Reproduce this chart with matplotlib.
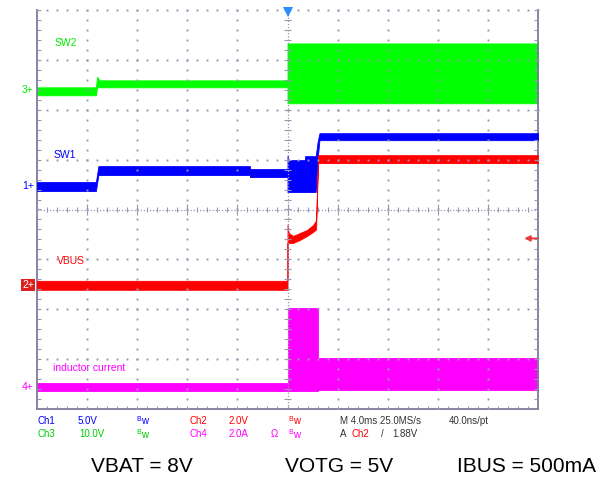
import numpy as np
import matplotlib
matplotlib.use("Agg")
import matplotlib.pyplot as plt

plt.rcParams["font.family"] = ["Liberation Sans", "DejaVu Sans"]

W, H = 608, 482

# Horizontal: 4 ms/div, 10 divisions -> -20 .. 20 ms. Vertical in divisions (-4 .. 4)
# Each trace is an envelope (top / bottom of the switching band)

# Ch3 - SW2
t_sw2 = [-20, -15.3, -15.2, -15.0, 0, 0, 20]
sw2_hi = [2.45, 2.45, 2.66, 2.59, 2.59, 3.33, 3.33]
sw2_lo = [2.29, 2.29, 2.45, 2.45, 2.45, 2.13, 2.13]

# Ch1 - SW1
t_sw1 = [-20, -15.3, -15.1, -3.0, -3.0, 0, 0, 0.1, 1.4, 1.4, 2.25, 2.4, 2.55, 20]
sw1_hi = [0.55, 0.55, 0.87, 0.87, 0.81, 0.81, 1.08, 0.99, 0.99, 1.07, 1.07, 1.35, 1.53, 1.53]
sw1_lo = [0.37, 0.37, 0.69, 0.69, 0.65, 0.65, 0.35, 0.35, 0.35, 0.35, 0.35, 1.0, 1.39, 1.39]

# Ch2 - VBUS
t_vbus = [-20, 0, 0, 0.1, 0.44, 1.0, 1.56, 2.04, 2.28, 2.44, 20]
vbus_hi = [-1.43, -1.43, -0.30, -0.47, -0.53, -0.47, -0.41, -0.31, -0.22, 1.09, 1.09]
vbus_lo = [-1.61, -1.61, -0.67, -0.67, -0.67, -0.61, -0.53, -0.45, -0.40, 0.93, 0.93]

# Ch4 - inductor current
t_il = [-20, 0, 0, 2.44, 2.44, 20]
il_hi = [-3.47, -3.47, -1.97, -1.97, -2.97, -2.97]
il_lo = [-3.63, -3.63, -3.63, -3.63, -3.61, -3.61]

# channel ground markers (divisions)
marker_pos = {"3": 2.39, "1": 0.47, "2": -1.52, "4": -3.55}
trig_level = -0.58

GRID = "#9898b2"
FRAME = "#7c7c9c"


def px(x, y):
    return x / W, 1 - y / H


fig = plt.figure(figsize=(W / 100, H / 100), dpi=100)
fig.patch.set_facecolor("white")
ax = fig.add_axes([37 / W, (H - 409) / H, 501 / W, 399 / H])
ax.set_xlim(-20, 20)
ax.set_ylim(-4, 4)
ax.set_xticks([])
ax.set_yticks([])
for side in ["left", "right", "bottom"]:
    ax.spines[side].set_color(FRAME)
    ax.spines[side].set_linewidth(1.3)
ax.spines["top"].set_visible(False)

# traces
ax.fill_between(t_sw2, sw2_lo, sw2_hi, color="#00ff00", lw=0.6, edgecolor="#00ff00", zorder=2)
ax.fill_between(t_sw1, sw1_lo, sw1_hi, color="#0000ff", lw=0.6, edgecolor="#0000ff", zorder=3)
ax.fill_between(t_vbus, vbus_lo, vbus_hi, color="#ff0000", lw=0.6, edgecolor="#ff0000", zorder=3)
ax.fill_between(t_il, il_lo, il_hi, color="#ff00ff", lw=0.6, edgecolor="#ff00ff", zorder=2)

# graticule: dotted lines with a dot every 0.2 div
fine_t = np.arange(-20, 20.01, 0.8)
fine_y = np.arange(-4, 4.01, 0.2)
for gx in range(-16, 17, 4):
    if gx != 0:
        ax.plot(np.full_like(fine_y, gx), fine_y, ls="none", marker="s", ms=1.4,
                mew=0, color=GRID, zorder=5)
for gy in [-3, -2, -1, 1, 2, 3, 4]:
    ax.plot(fine_t, np.full_like(fine_t, gy), ls="none", marker="s", ms=1.4,
            mew=0, color=GRID, zorder=5, clip_on=False)

# centre cross with ticks
ax.plot([-20, 20], [0, 0], ls=(0, (1, 1.5)), lw=0.9, color=GRID, zorder=5)
ax.plot([0, 0], [-4, 4], ls=(0, (1, 1.5)), lw=0.9, color=GRID, zorder=5)
ax.vlines(fine_t, -0.06, 0.06, color=GRID, lw=0.8, zorder=5)
ax.vlines(np.arange(-20, 21, 4), -0.11, 0.11, color=GRID, lw=0.8, zorder=5)
ax.hlines(fine_y, -0.24, 0.24, color=GRID, lw=0.8, zorder=5)

# edge ticks
ax.hlines(fine_y, -20, -19.72, color=GRID, lw=0.8, zorder=5)
ax.hlines(fine_y, 19.72, 20, color=GRID, lw=0.8, zorder=5)
ax.vlines(fine_t, -4, -3.94, color=GRID, lw=0.8, zorder=5)

# trigger position and level
ax.plot([0], [3.95], marker="v", ms=7, color="#2a8cff", mew=0, clip_on=False, zorder=6)
ax.annotate("", xy=(18.9, trig_level), xytext=(20, trig_level),
            arrowprops=dict(arrowstyle="-|>", color="#e83a3a", lw=1.4,
                            mutation_scale=8, shrinkA=0, shrinkB=0), zorder=6)

# trace names
ax.text(px(55, 43)[0], px(55, 43)[1], "SW2", color="#00ee00", fontsize=7.5,
        transform=fig.transFigure, va="center")
ax.text(px(54, 155)[0], px(54, 155)[1], "SW1", color="#0000ff", fontsize=7.5,
        transform=fig.transFigure, va="center")
ax.text(px(57, 261)[0], px(57, 261)[1], "VBUS", color="#ff0000", fontsize=7.5,
        transform=fig.transFigure, va="center")
ax.text(px(53, 368)[0], px(53, 368)[1], "inductor current", color="#ff00ff",
        fontsize=7.5, transform=fig.transFigure, va="center")

# ground markers left of the screen
mcol = {"3": "#00ee00", "1": "#0000ff", "2": "#ff0000", "4": "#ff00ff"}
for name, pos in marker_pos.items():
    if name == "2":
        ax.text(-20.25, pos, "2+", color="white", fontsize=7.5, ha="right", va="center",
                clip_on=False,
                bbox=dict(boxstyle="square,pad=0.1", fc="#e02020", ec="none"))
    else:
        ax.text(-20.25, pos, name + "+", color=mcol[name], fontsize=7.5, ha="right",
                va="center", clip_on=False)

# scope readout
r1, r2 = 421, 434
readout = [
    (38, r1, "Ch1", "#0000ff"), (78, r1, "5.0V", "#0000ff"),
    (189, r1, "Ch2", "#ff0000"), (229, r1, "2.0V", "#ff0000"),
    (340, r1, "M 4.0ms 25.0MS/s", "#333333"), (449, r1, "40.0ns/pt", "#333333"),
    (38, r2, "Ch3", "#00cc00"), (79, r2, "10.0V", "#00cc00"),
    (189, r2, "Ch4", "#ff00ff"), (229, r2, "2.0A", "#ff00ff"),
    (271, r2, "\u03a9", "#ff00ff"),
    (340, r2, "A", "#333333"), (352, r2, "Ch2", "#ff0000"),
    (381, r2, "/", "#333333"), (392, r2, "1.88V", "#333333"),
]
for x, y, s, c in readout:
    fig.text(*px(x, y), s, color=c, fontsize=7, va="center", ha="left")

# bandwidth-limit flags
for x, y, c in [(136, r1, "#0000ff"), (288, r1, "#ff0000"),
                (136, r2, "#00cc00"), (288, r2, "#ff00ff")]:
    fig.text(*px(x, y - 1.5), "B", color=c, fontsize=5, va="center", ha="left")
    fig.text(*px(x + 5, y + 0.5), "w", color=c, fontsize=7, va="center", ha="left")

# test conditions
for x, s in [(91, "VBAT = 8V"), (285, "VOTG = 5V"), (457, "IBUS = 500mA")]:
    fig.text(*px(x, 467), s, color="black", fontsize=15, va="center", ha="left")

fig.savefig("out.png", dpi=100, facecolor="white")
